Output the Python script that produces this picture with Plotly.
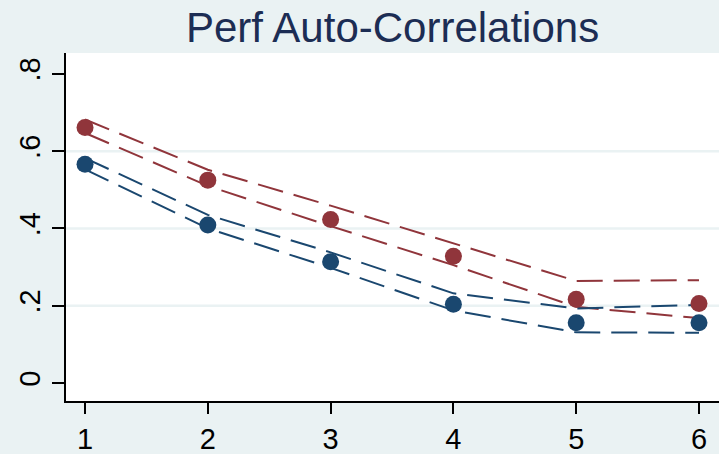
import plotly.graph_objects as go

lags = [1, 2, 3, 4, 5, 6]

red_point = [0.661, 0.525, 0.423, 0.328, 0.217, 0.206]
red_upper = [0.682, 0.552, 0.459, 0.361, 0.264, 0.266]
red_lower = [0.647, 0.510, 0.406, 0.305, 0.197, 0.168]

blue_point = [0.566, 0.409, 0.314, 0.204, 0.156, 0.156]
blue_upper = [0.582, 0.435, 0.338, 0.232, 0.193, 0.202]
blue_lower = [0.553, 0.400, 0.298, 0.188, 0.131, 0.130]

y_tickvals = [0, 0.2, 0.4, 0.6, 0.8]
y_ticktext = ["0", ".2", ".4", ".6", ".8"]
grid_vals = [0.2, 0.4, 0.6]

NAVY = "#1a476f"
MAROON = "#90353b"
BG = "#eaf2f3"
FONT = "Liberation Sans, Arial, sans-serif"

fig = go.Figure()

for ys, col in [(red_upper, MAROON), (red_lower, MAROON), (blue_upper, NAVY), (blue_lower, NAVY)]:
    fig.add_trace(go.Scatter(x=lags, y=ys, mode="lines",
                             line=dict(color=col, width=2, dash="26px,11px"),
                             hoverinfo="skip"))

for ys, col in [(red_point, MAROON), (blue_point, NAVY)]:
    fig.add_trace(go.Scatter(x=lags, y=ys, mode="markers",
                             marker=dict(color=col, size=17, line=dict(width=0))))

for g in grid_vals:
    fig.add_shape(type="line", xref="paper", yref="y", x0=0, x1=1, y0=g, y1=g,
                  line=dict(color=BG, width=2.5), layer="below")

fig.update_layout(
    width=719, height=454,
    margin=dict(l=66, r=0, t=53, b=53),
    paper_bgcolor=BG, plot_bgcolor="white",
    showlegend=False,
    font=dict(family=FONT, color="black"),
    title=dict(text="Perf Auto-Correlations", x=0.546, xanchor="center",
               y=0.94, yanchor="middle",
               font=dict(family=FONT, size=42, color="#1c2d54")),
)
fig.update_xaxes(range=[0.845, 6.163], tickvals=lags, ticktext=[str(v) for v in lags],
                 showgrid=False, zeroline=False, showline=True, linecolor="black", linewidth=2,
                 ticks="outside", ticklen=11, tickwidth=2, tickcolor="black",
                 tickfont=dict(size=29, family=FONT, color="black"))
fig.update_yaxes(range=[-0.0466, 0.854], tickvals=y_tickvals, ticktext=y_ticktext,
                 showgrid=False, zeroline=False, showline=True, linecolor="black", linewidth=2,
                 ticks="outside", ticklen=12, tickwidth=2, tickcolor="black",
                 tickangle=-90,
                 tickfont=dict(size=29, family=FONT, color="black"))

fig.write_html("out.html")
